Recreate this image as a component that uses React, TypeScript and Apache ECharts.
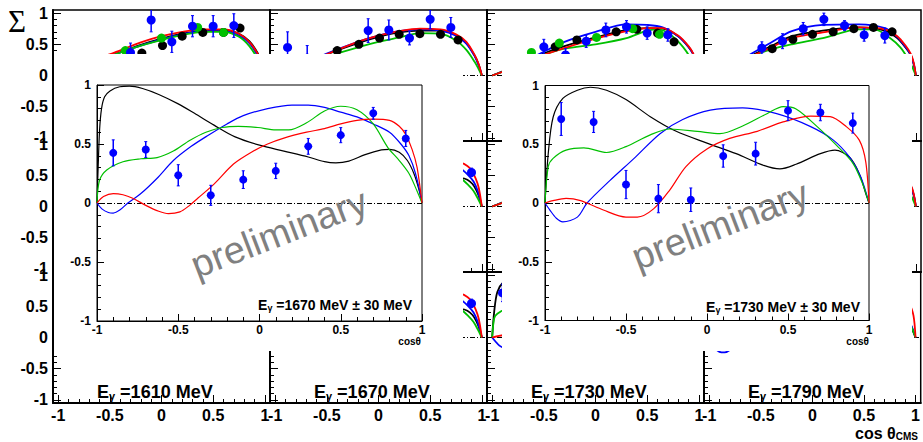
import React, { useEffect, useRef } from 'react';
import * as echarts from 'echarts';

// ---------------- data ----------------
const energies = ['1610', '1670', '1730', '1790'];
const tickMajor = [-1, -0.5, 0, 0.5, 1];
const tickMinor = [-0.9, -0.8, -0.7, -0.6, -0.4, -0.3, -0.2, -0.1, 0.1, 0.2, 0.3, 0.4, 0.6, 0.7, 0.8, 0.9];

// top-row small panels: model curves [cosθ, Σ]
const top1610Black = [[-1, 0], [-0.9, 0.1], [-0.7, 0.21], [-0.45, 0.34], [-0.2, 0.49], [0, 0.59], [0.2, 0.67], [0.4, 0.72], [0.6, 0.73], [0.75, 0.67], [0.85, 0.55], [0.93, 0.36], [0.97, 0.2], [1, 0]];
const top1610Red = [[-1, 0], [-0.9, 0.1], [-0.7, 0.22], [-0.45, 0.37], [-0.2, 0.53], [0, 0.63], [0.2, 0.7], [0.4, 0.74], [0.6, 0.74], [0.75, 0.67], [0.85, 0.54], [0.93, 0.35], [0.97, 0.2], [1, 0]];
const top1610Blue = [[-1, 0], [-0.9, 0.09], [-0.7, 0.2], [-0.45, 0.34], [-0.2, 0.48], [0, 0.58], [0.2, 0.66], [0.4, 0.71], [0.6, 0.71], [0.75, 0.64], [0.85, 0.52], [0.93, 0.32], [0.97, 0.17], [1, 0]];
const top1610Green = [[-1, 0], [-0.9, 0.09], [-0.7, 0.2], [-0.45, 0.34], [-0.2, 0.48], [0, 0.57], [0.2, 0.65], [0.4, 0.7], [0.6, 0.7], [0.75, 0.62], [0.85, 0.47], [0.93, 0.27], [0.97, 0.13], [1, 0]];

const top1670Black = [[-1, 0], [-0.8, 0.12], [-0.5, 0.34], [-0.2, 0.52], [0, 0.62], [0.2, 0.69], [0.4, 0.72], [0.6, 0.72], [0.75, 0.65], [0.85, 0.52], [0.93, 0.32], [0.97, 0.17], [1, 0]];
const top1670Red = [[-1, 0], [-0.8, 0.12], [-0.5, 0.34], [-0.2, 0.54], [0, 0.64], [0.2, 0.71], [0.4, 0.75], [0.6, 0.74], [0.75, 0.66], [0.85, 0.54], [0.93, 0.33], [0.97, 0.18], [1, 0]];
const top1670Blue = [[-1, 0], [-0.8, 0.13], [-0.5, 0.35], [-0.2, 0.54], [0, 0.64], [0.2, 0.71], [0.4, 0.74], [0.6, 0.72], [0.75, 0.64], [0.85, 0.51], [0.93, 0.31], [0.97, 0.16], [1, 0]];
const top1670Green = [[-1, 0], [-0.8, 0.1], [-0.5, 0.3], [-0.2, 0.45], [0, 0.54], [0.2, 0.61], [0.4, 0.68], [0.6, 0.67], [0.75, 0.56], [0.85, 0.41], [0.93, 0.22], [0.97, 0.1], [1, 0]];

const top1730Black = [[-1, 0], [-0.8, 0.13], [-0.55, 0.32], [-0.3, 0.47], [0, 0.61], [0.3, 0.73], [0.5, 0.76], [0.65, 0.75], [0.8, 0.63], [0.9, 0.46], [0.95, 0.33], [0.98, 0.18], [1, 0]];
const top1730Red = [[-1, 0], [-0.8, 0.12], [-0.55, 0.3], [-0.3, 0.44], [0, 0.59], [0.3, 0.71], [0.5, 0.76], [0.65, 0.76], [0.8, 0.64], [0.9, 0.47], [0.95, 0.34], [0.98, 0.19], [1, 0]];
const top1730Blue = [[-1, 0], [-0.8, 0.13], [-0.55, 0.34], [-0.3, 0.54], [0, 0.7], [0.3, 0.82], [0.5, 0.81], [0.65, 0.77], [0.8, 0.63], [0.9, 0.46], [0.95, 0.33], [0.98, 0.18], [1, 0]];
const top1730Green = [[-1, 0], [-0.8, 0.12], [-0.55, 0.3], [-0.3, 0.43], [0, 0.5], [0.3, 0.6], [0.5, 0.72], [0.62, 0.74], [0.75, 0.62], [0.85, 0.45], [0.92, 0.28], [0.97, 0.12], [1, 0]];

const top1790Black = [[-1, 0], [-0.8, 0.14], [-0.6, 0.31], [-0.4, 0.47], [-0.2, 0.63], [0.1, 0.72], [0.45, 0.77], [0.7, 0.72], [0.82, 0.6], [0.9, 0.45], [0.95, 0.33], [0.98, 0.18], [1, 0]];
const top1790Red = [[-1, 0], [-0.8, 0.13], [-0.6, 0.3], [-0.4, 0.45], [-0.2, 0.6], [0.1, 0.69], [0.45, 0.77], [0.7, 0.74], [0.82, 0.63], [0.9, 0.48], [0.95, 0.35], [0.98, 0.2], [1, 0]];
const top1790Blue = [[-1, 0], [-0.8, 0.15], [-0.6, 0.34], [-0.4, 0.53], [-0.2, 0.71], [0.1, 0.81], [0.45, 0.82], [0.7, 0.76], [0.82, 0.62], [0.9, 0.46], [0.95, 0.33], [0.98, 0.18], [1, 0]];
const top1790Green = [[-1, 0], [-0.8, 0.13], [-0.6, 0.3], [-0.4, 0.42], [-0.2, 0.5], [0.1, 0.6], [0.45, 0.74], [0.6, 0.74], [0.75, 0.6], [0.85, 0.45], [0.92, 0.28], [0.97, 0.12], [1, 0]];
const low1790Blue = [[-1, 0], [-0.95, -0.15], [-0.9, -0.23], [-0.85, -0.24], [-0.8, -0.2], [-0.74, -0.1], [-0.65, 0.06], [-0.5, 0.36], [-0.2, 0.68], [0.2, 0.8], [0.6, 0.66], [0.85, 0.45], [0.95, 0.22], [1, 0]];

// top-row measured points [cosθ, Σ, error]
const top1610BluePts = [[-0.3, 0.37, 0.15], [-0.1, 0.89, 0.19], [0.1, 0.54, 0.17], [0.3, 0.79, 0.17], [0.5, 0.79, 0.17], [0.7, 0.8, 0.19]];
const top1610BlackPts = [[-0.19, 0.36, 0], [0.01, 0.48, 0], [0.2, 0.63, 0], [0.4, 0.69, 0], [0.6, 0.69, 0], [0.76, 0.76, 0]];
const top1610GreenPts = [[-0.35, 0.4, 0.05], [0, 0.6, 0.05], [0.35, 0.77, 0.05], [0.6, 0.69, 0.05]];
const top1670BluePts = [[-0.88, 0.45, 0.25], [-0.69, 0.28, 0.2], [-0.1, 0.72, 0.19], [0.1, 0.73, 0.16], [0.3, 0.6, 0.11], [0.5, 0.9, 0.15], [0.7, 0.77, 0.16]];
const top1670BlackPts = [[-0.4, 0.4, 0], [-0.19, 0.5, 0], [0.01, 0.6, 0], [0.2, 0.66, 0], [0.4, 0.67, 0], [0.6, 0.66, 0], [0.77, 0.57, 0]];
const top1730BluePts = [[-0.5, 0.46, 0.12], [-0.29, 0.33, 0.1], [-0.09, 0.55, 0.1], [0.1, 0.73, 0.11], [0.3, 0.78, 0.1], [0.5, 0.68, 0.1], [0.7, 0.65, 0.1]];
const top1730GreenPts = [[-0.62, 0.37, 0.05], [-0.35, 0.52, 0.05], [0.01, 0.61, 0.05], [0.36, 0.75, 0.05], [0.62, 0.66, 0.05]];
const top1730BlackPts = [[-0.39, 0.46, 0], [-0.18, 0.57, 0], [0.2, 0.7, 0], [0.4, 0.74, 0], [0.6, 0.68, 0], [0.76, 0.54, 0]];
const top1790BluePts = [[-0.49, 0.44, 0.1], [-0.29, 0.55, 0.12], [-0.09, 0.75, 0.1], [0.11, 0.9, 0.1], [0.31, 0.8, 0.08], [0.5, 0.65, 0.1], [0.7, 0.64, 0.12]];
const top1790BlackPts = [[-0.39, 0.43, 0], [-0.19, 0.58, 0], [0, 0.66, 0], [0.2, 0.7, 0], [0.4, 0.75, 0], [0.59, 0.77, 0], [0.77, 0.7, 0]];

// inset 1670 MeV
const in1670Black = [[-1, 0], [-0.993, 0.3], [-0.984, 0.62], [-0.972, 0.8], [-0.953, 0.9], [-0.92, 0.95], [-0.86, 0.985], [-0.8, 0.99], [-0.72, 0.97], [-0.62, 0.92], [-0.5, 0.84], [-0.4, 0.76], [-0.28, 0.66], [-0.15, 0.56], [0, 0.49], [0.15, 0.44], [0.3, 0.39], [0.4, 0.35], [0.47, 0.34], [0.55, 0.355], [0.65, 0.41], [0.75, 0.45], [0.8, 0.455], [0.86, 0.43], [0.91, 0.36], [0.95, 0.25], [0.98, 0.12], [1, 0]];
const in1670Blue = [[-1, 0], [-0.97, -0.05], [-0.93, -0.08], [-0.9, -0.085], [-0.86, -0.06], [-0.81, 0], [-0.73, 0.08], [-0.63, 0.21], [-0.53, 0.36], [-0.42, 0.48], [-0.32, 0.57], [-0.2, 0.67], [-0.1, 0.74], [0.05, 0.8], [0.2, 0.83], [0.3, 0.83], [0.4, 0.81], [0.5, 0.77], [0.6, 0.73], [0.7, 0.67], [0.8, 0.6], [0.87, 0.5], [0.92, 0.4], [0.96, 0.25], [1, 0]];
const in1670Green = [[-1, 0], [-0.985, 0.19], [-0.94, 0.28], [-0.84, 0.35], [-0.73, 0.375], [-0.63, 0.385], [-0.53, 0.44], [-0.43, 0.53], [-0.33, 0.6], [-0.23, 0.64], [-0.13, 0.65], [-0.01, 0.64], [0.1, 0.62], [0.18, 0.62], [0.29, 0.68], [0.4, 0.78], [0.5, 0.82], [0.6, 0.79], [0.7, 0.67], [0.79, 0.47], [0.86, 0.36], [0.92, 0.25], [0.97, 0.1], [1, 0]];
const in1670Red = [[-1, 0], [-0.96, 0.055], [-0.9, 0.08], [-0.84, 0.07], [-0.78, 0.04], [-0.7, -0.02], [-0.62, -0.07], [-0.56, -0.09], [-0.49, -0.075], [-0.43, -0.02], [-0.38, 0.04], [-0.28, 0.16], [-0.16, 0.33], [-0.05, 0.43], [0.05, 0.5], [0.15, 0.55], [0.29, 0.6], [0.4, 0.63], [0.5, 0.67], [0.6, 0.7], [0.7, 0.71], [0.8, 0.7], [0.86, 0.65], [0.9, 0.58], [0.94, 0.45], [0.97, 0.3], [1, 0]];
const in1670Pts = [[-0.9, 0.425, 0.11], [-0.7, 0.453, 0.067], [-0.5, 0.235, 0.09], [-0.3, 0.065, 0.085], [-0.1, 0.198, 0.075], [0.1, 0.272, 0.065], [0.3, 0.48, 0.067], [0.5, 0.575, 0.064], [0.7, 0.76, 0.05], [0.9, 0.547, 0.068]];

// inset 1730 MeV
const in1730Black = [[-1, 0], [-0.98, 0.42], [-0.95, 0.73], [-0.89, 0.89], [-0.8, 0.96], [-0.72, 0.985], [-0.62, 0.96], [-0.5, 0.88], [-0.35, 0.735], [-0.19, 0.61], [0, 0.51], [0.18, 0.42], [0.35, 0.32], [0.45, 0.29], [0.55, 0.33], [0.7, 0.42], [0.79, 0.45], [0.88, 0.39], [0.94, 0.25], [0.98, 0.08], [1, 0]];
const in1730Blue = [[-1, 0], [-0.97, -0.06], [-0.93, -0.13], [-0.89, -0.16], [-0.8, -0.12], [-0.74, 0], [-0.6, 0.19], [-0.45, 0.38], [-0.29, 0.59], [-0.15, 0.71], [0.02, 0.79], [0.22, 0.81], [0.43, 0.76], [0.64, 0.65], [0.78, 0.535], [0.88, 0.39], [0.95, 0.22], [1, 0]];
const in1730Green = [[-1, 0], [-0.98, 0.31], [-0.95, 0.38], [-0.87, 0.45], [-0.76, 0.47], [-0.62, 0.43], [-0.5, 0.48], [-0.35, 0.58], [-0.23, 0.63], [-0.06, 0.61], [0.08, 0.59], [0.22, 0.655], [0.37, 0.76], [0.47, 0.82], [0.55, 0.8], [0.68, 0.65], [0.8, 0.49], [0.9, 0.34], [0.96, 0.165], [1, 0]];
const in1730Red = [[-1, 0], [-0.95, 0.02], [-0.87, 0.04], [-0.78, 0.02], [-0.64, -0.06], [-0.5, -0.12], [-0.43, -0.12], [-0.33, -0.05], [-0.23, 0.11], [-0.13, 0.31], [0, 0.46], [0.14, 0.55], [0.31, 0.61], [0.47, 0.69], [0.64, 0.74], [0.76, 0.735], [0.86, 0.65], [0.94, 0.535], [0.98, 0.35], [1, 0]];
const in1730Pts = [[-0.9, 0.715, 0.14], [-0.7, 0.69, 0.09], [-0.5, 0.157, 0.12], [-0.3, 0.037, 0.12], [-0.1, 0.028, 0.1], [0.1, 0.4, 0.095], [0.3, 0.42, 0.097], [0.5, 0.786, 0.085], [0.7, 0.77, 0.07], [0.9, 0.68, 0.085]];

// ---------------- style ----------------
const BLACK = '#000000';
const RED = '#ff0000';
const BLUE = '#0000ff';
const GREEN = '#00c000';
const FONT = '"Liberation Sans", Arial, Helvetica, sans-serif';
const SERIF = '"Liberation Serif", "DejaVu Serif", serif';

type Curves = { black: number[][]; red: number[][]; blue: number[][]; green: number[][] };
type PtSet = { data: number[][]; color: string };

const topCurves: Curves[] = [
  { black: top1610Black, red: top1610Red, blue: top1610Blue, green: top1610Green },
  { black: top1670Black, red: top1670Red, blue: top1670Blue, green: top1670Green },
  { black: top1730Black, red: top1730Red, blue: top1730Blue, green: top1730Green },
  { black: top1790Black, red: top1790Red, blue: top1790Blue, green: top1790Green },
];
const topPts: PtSet[][] = [
  [{ data: top1610BlackPts, color: BLACK }, { data: top1610GreenPts, color: GREEN }, { data: top1610BluePts, color: BLUE }],
  [{ data: top1670BlackPts, color: BLACK }, { data: top1670BluePts, color: BLUE }],
  [{ data: top1730BlackPts, color: BLACK }, { data: top1730GreenPts, color: GREEN }, { data: top1730BluePts, color: BLUE }],
  [{ data: top1790BlackPts, color: BLACK }, { data: top1790BluePts, color: BLUE }],
];
const c1670: Curves = { black: in1670Black, red: in1670Red, blue: in1670Blue, green: in1670Green };
const c1730: Curves = { black: in1730Black, red: in1730Red, blue: in1730Blue, green: in1730Green };

function fmt(v: number) {
  return tickMajor.some((t) => Math.abs(t - v) < 1e-6) ? String(v) : '';
}

function buildOption() {
  const grid: any[] = [];
  const xAxis: any[] = [];
  const yAxis: any[] = [];
  const series: any[] = [];

  type Cfg = {
    left: number; top: number; width: number; height: number; range: number;
    z: number; lineW: number; majorLen: number; minorLen: number; font: number;
    xLabels: boolean; yLabels: boolean; xMargin: number; yMargin: number;
    bg: string; border: number;
  };

  function addAxes(list: any[], gi: number, pos: string, c: Cfg, show: boolean, margin: number) {
    const idx = list.length;
    list.push({
      type: 'value', gridIndex: gi, min: -c.range, max: c.range, position: pos, z: c.z,
      axisLine: { show: true, onZero: false, lineStyle: { color: '#000', width: c.lineW } },
      axisTick: { show: true, inside: true, length: c.majorLen, customValues: tickMajor, lineStyle: { color: '#000', width: 1 } },
      axisLabel: { show: show, customValues: tickMajor, margin, color: '#000', fontSize: c.font, fontWeight: 'bold', fontFamily: FONT, formatter: fmt },
      splitLine: { show: false },
    });
    list.push({
      type: 'value', gridIndex: gi, min: -c.range, max: c.range, position: pos, z: c.z,
      axisLine: { show: false, onZero: false },
      axisTick: { show: true, inside: true, length: c.minorLen, customValues: tickMinor, lineStyle: { color: '#000', width: 1 } },
      axisLabel: { show: false },
      splitLine: { show: false },
    });
    return idx;
  }

  function addPanel(c: Cfg, curves: Curves, pts: PtSet[], lw: number, r: number) {
    const gi = grid.length;
    grid.push({ left: c.left, top: c.top, width: c.width, height: c.height, show: true, borderColor: '#000', borderWidth: c.border, backgroundColor: c.bg, z: c.z });
    const xi = addAxes(xAxis, gi, 'bottom', c, c.xLabels, c.xMargin);
    const yi = addAxes(yAxis, gi, 'left', c, c.yLabels, c.yMargin);
    const order: [number[][], string][] = [[curves.black, BLACK], [curves.blue, BLUE], [curves.green, GREEN], [curves.red, RED]];
    order.forEach(([d, col], k) => {
      series.push({
        type: 'line', xAxisIndex: xi, yAxisIndex: yi, data: d, smooth: 0.3, symbol: 'none', showSymbol: false,
        lineStyle: { color: col, width: lw }, z: c.z + 2, silent: true, clip: true,
        markLine: k === 0 ? {
          silent: true, symbol: 'none', z: c.z + 1, label: { show: false },
          lineStyle: { color: '#000', width: 1, type: [5, 2, 1, 2] },
          data: [{ yAxis: 0 }],
        } : undefined,
      });
    });
    pts.forEach((p) => {
      series.push({
        type: 'custom', xAxisIndex: xi, yAxisIndex: yi, data: p.data, z: c.z + 3, clip: true, silent: true,
        renderItem: (params: any, api: any) => {
          const x = api.value(0), y = api.value(1), e = api.value(2);
          const pc = api.coord([x, y]);
          const children: any[] = [];
          if (e > 0) {
            const t = api.coord([x, y + e]);
            const b = api.coord([x, y - e]);
            children.push({ type: 'line', shape: { x1: pc[0], y1: t[1], x2: pc[0], y2: b[1] }, style: { stroke: p.color, lineWidth: 1.5 } });
            children.push({ type: 'line', shape: { x1: pc[0] - 1.5, y1: t[1], x2: pc[0] + 1.5, y2: t[1] }, style: { stroke: p.color, lineWidth: 1 } });
            children.push({ type: 'line', shape: { x1: pc[0] - 1.5, y1: b[1], x2: pc[0] + 1.5, y2: b[1] }, style: { stroke: p.color, lineWidth: 1 } });
          }
          children.push({ type: 'circle', shape: { cx: pc[0], cy: pc[1], r }, style: { fill: p.color } });
          return { type: 'group', children };
        },
      });
    });
  }

  // background 3x4 panels
  const bgLeft = 53, bgTop = 10, colW = 217, rowH = 131;
  for (let r = 0; r < 3; r++) {
    for (let c = 0; c < 4; c++) {
      const cfg: Cfg = {
        left: bgLeft + c * colW, top: bgTop + r * rowH, width: colW, height: rowH, range: 1.05,
        z: 0, lineW: 2, majorLen: 8, minorLen: 4, font: 16,
        xLabels: r === 2, yLabels: c === 0, xMargin: 4, yMargin: 5, bg: 'transparent', border: 1.5,
      };
      let curves: Curves = topCurves[c];
      let pts: PtSet[] = [];
      if (r === 0) pts = topPts[c];
      if (r === 1 && c === 1) { curves = c1670; pts = [{ data: in1670Pts, color: BLUE }]; }
      if (r === 2 && c === 1) { curves = c1670; pts = [{ data: in1670Pts, color: BLUE }]; }
      if (r === 2 && c === 2) { curves = c1730; pts = [{ data: in1730Pts, color: BLUE }]; }
      if (r === 2 && c === 3) { curves = { black: in1730Black, red: in1730Red, blue: low1790Blue, green: in1730Green }; }
      addPanel(cfg, curves, pts, 1.8, 4.5);
    }
  }

  // insets
  const insetBase = {
    range: 1, z: 20, lineW: 1, majorLen: 7, minorLen: 4, font: 12,
    xLabels: true, yLabels: true, xMargin: 3, yMargin: 6, bg: '#ffffff', border: 1,
  };
  addPanel({ ...insetBase, left: 97, top: 85, width: 325, height: 236 }, c1670, [{ data: in1670Pts, color: BLUE }], 1.2, 4);
  addPanel({ ...insetBase, left: 545, top: 85.5, width: 324, height: 235 }, c1730, [{ data: in1730Pts, color: BLUE }], 1.2, 4);

  const sub = (main: number, small: number) => ({
    m: { fontSize: main, fontWeight: 'bold', fontFamily: FONT, fill: '#000', lineHeight: main, verticalAlign: 'middle' },
    s: { fontSize: small, fontWeight: 'bold', fontFamily: FONT, fill: '#000', lineHeight: small, verticalAlign: 'bottom' },
  });

  const graphic: any[] = [
    { type: 'rect', silent: true, z: 10, shape: { x: 54, y: 54, width: 409, height: 297 }, style: { fill: '#ffffff' } },
    { type: 'rect', silent: true, z: 10, shape: { x: 502, y: 54, width: 410, height: 297 }, style: { fill: '#ffffff' } },
    { type: 'text', z: 5, x: 17, y: 21, style: { text: 'Σ', fontSize: 31, fontFamily: SERIF, fill: '#000', align: 'center', verticalAlign: 'middle', textAlign: 'center', textVerticalAlign: 'middle' } },
    {
      type: 'text', z: 5, x: 855, y: 433,
      style: { text: '{m|cos θ}{s|CMS}', rich: sub(16, 10), align: 'left', verticalAlign: 'middle', textAlign: 'left', textVerticalAlign: 'middle' },
    },
  ];
  energies.forEach((e, c) => {
    graphic.push({
      type: 'text', z: 5, x: 97 + c * colW, y: 392,
      style: { text: `{m|E}{s|γ}{m| =${e} MeV}`, rich: sub(18, 11), align: 'left', verticalAlign: 'middle', textAlign: 'left', textVerticalAlign: 'middle' },
    });
  });
  const insetLabels = [
    { e: energies[1], x: 412, y: 305, cx: 421 },
    { e: energies[2], x: 860, y: 307, cx: 869 },
  ];
  insetLabels.forEach((l) => {
    graphic.push({
      type: 'text', z: 30, x: l.x, y: l.y,
      style: { text: `{m|E}{s|γ}{m| =${l.e} MeV ± 30 MeV}`, rich: sub(14, 9), align: 'right', verticalAlign: 'middle', textAlign: 'right', textVerticalAlign: 'middle' },
    });
    graphic.push({
      type: 'text', z: 30, x: l.cx, y: 341,
      style: { text: 'cosθ', fontSize: 10, fontWeight: 'bold', fontFamily: FONT, fill: '#000', align: 'right', verticalAlign: 'middle', textAlign: 'right', textVerticalAlign: 'middle' },
    });
  });
  const wm = [{ x: 279, y: 233 }, { x: 720, y: 225 }];
  wm.forEach((w) => {
    graphic.push({
      type: 'text', z: 30, x: w.x, y: w.y, rotation: (21 * Math.PI) / 180,
      style: { text: 'preliminary', fontSize: 38, fontFamily: FONT, fill: '#808080', align: 'center', verticalAlign: 'middle', textAlign: 'center', textVerticalAlign: 'middle' },
    });
  });

  return { animation: false, backgroundColor: '#ffffff', grid, xAxis, yAxis, series, graphic };
}

export default function App() {
  const ref = useRef<HTMLDivElement>(null);
  useEffect(() => {
    if (!ref.current) return;
    const chart = echarts.init(ref.current, null, { renderer: 'svg' });
    chart.setOption(buildOption() as any);
    return () => chart.dispose();
  }, []);
  return <div ref={ref} style={{ position: 'absolute', left: 0, top: 0, width: 923, height: 442 }} />;
}
